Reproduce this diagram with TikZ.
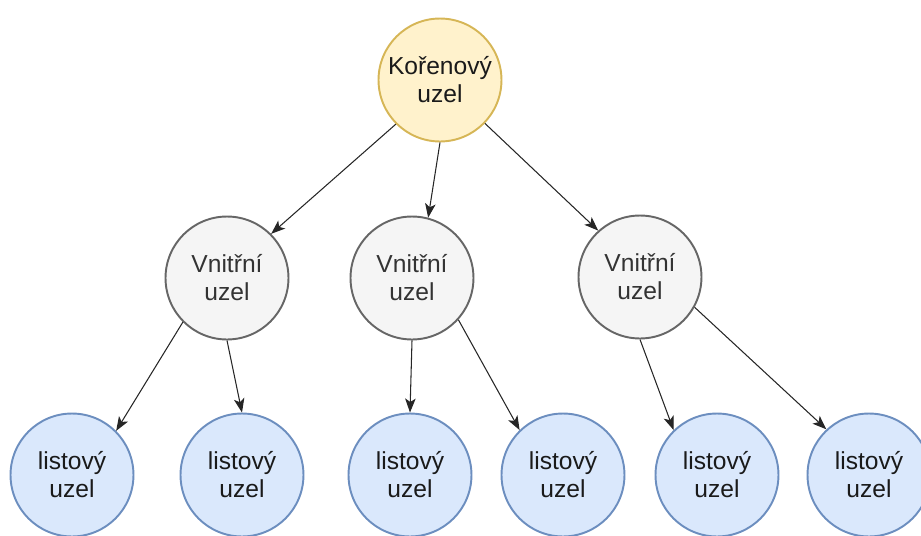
\documentclass[tikz,border=0pt]{standalone}
\usepackage{fontspec}
\setmainfont{Liberation Sans}
\usetikzlibrary{arrows.meta}
\definecolor{rootfill}{HTML}{FFF2CC}
\definecolor{rootdraw}{HTML}{D6B656}
\definecolor{innerfill}{HTML}{F5F5F5}
\definecolor{innerdraw}{HTML}{666666}
\definecolor{innertext}{HTML}{333333}
\definecolor{leaffill}{HTML}{DAE8FC}
\definecolor{leafdraw}{HTML}{6C8EBF}
\definecolor{leaftext}{HTML}{1A1A1A}
\tikzset{
  treenode/.style={circle, minimum size=2.46cm, inner sep=0pt, line width=1.1pt,
    align=center, font=\fontsize{14}{16}\selectfont},
  rootnode/.style={treenode, fill=rootfill, draw=rootdraw, text=leaftext},
  innernode/.style={treenode, fill=innerfill, draw=innerdraw, text=innertext},
  leafnode/.style={treenode, fill=leaffill, draw=leafdraw, text=leaftext},
  link/.style={line width=0.6pt, draw=black!85,
    -{Stealth[length=8pt, width=6pt, inset=2pt]}}
}
\begin{document}
\begin{tikzpicture}[x=0.02cm, y=-0.02cm]
  \useasboundingbox (0,0) rectangle (921,535);

  % root
  \node[rootnode] (root) at (440,80) {Kořenový\\uzel};

  % inner level
  \node[innernode] (in1) at (227,278) {Vnitřní\\uzel};
  \node[innernode] (in2) at (412,278) {Vnitřní\\uzel};
  \node[innernode] (in3) at (640,277) {Vnitřní\\uzel};

  % leaves
  \node[leafnode] (l1) at (72,475) {listový\\uzel};
  \node[leafnode] (l2) at (242,475) {listový\\uzel};
  \node[leafnode] (l3) at (410,475) {listový\\uzel};
  \node[leafnode] (l4) at (563,475) {listový\\uzel};
  \node[leafnode] (l5) at (717,475) {listový\\uzel};
  \node[leafnode] (l6) at (869,475) {listový\\uzel};

  % connectors root -> inner
  \draw[link] (root.-135) -- (in1.45);
  \draw[link] (root.-90) -- (in2.75);
  \draw[link] (root.-44) -- (in3.132);

  % connectors inner -> leaves
  \draw[link] (in1.-135) -- (l1.45);
  \draw[link] (in1.-90) -- (l2.90);
  \draw[link] (in2.-90) -- (l3.90);
  \draw[link] (in2.-42) -- (l4.134);
  \draw[link] (in3.-90) -- (l5.134);
  \draw[link] (in3.-29) -- (l6.133);
\end{tikzpicture}
\end{document}
